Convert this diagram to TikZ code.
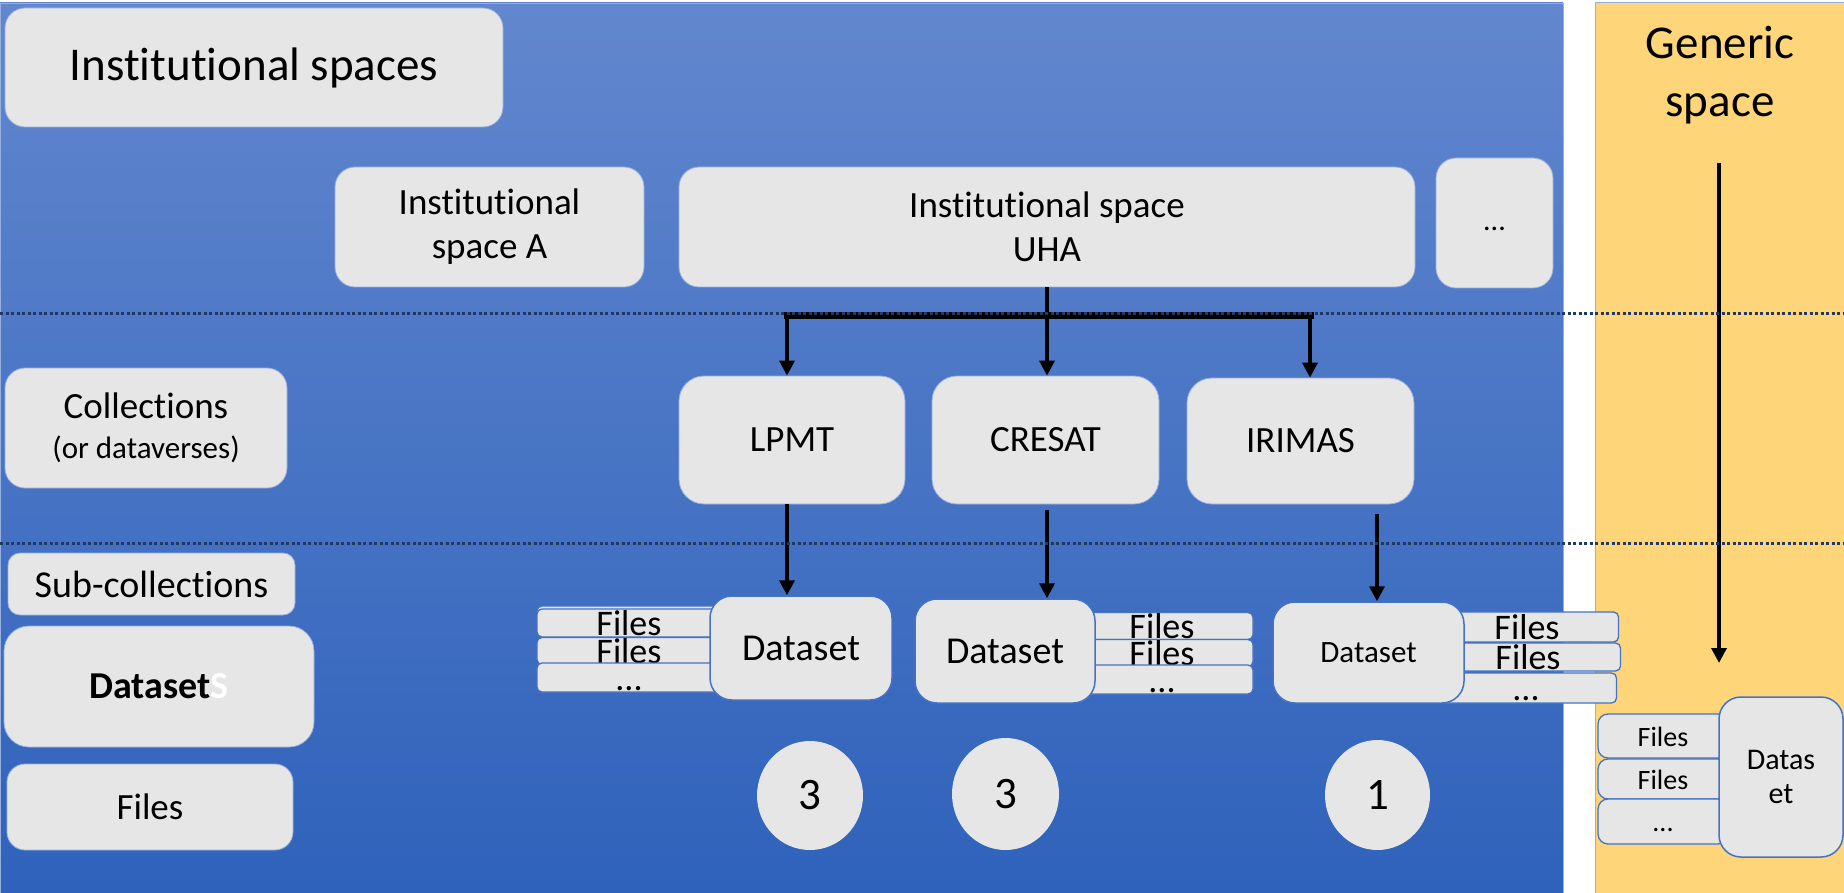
\documentclass[tikz,border=0pt]{standalone}
\usepackage{fontspec}
\setmainfont{Carlito}[Ligatures=NoCommon]
\usetikzlibrary{arrows.meta,shapes.geometric}
\definecolor{paneltop}{RGB}{98,135,206}
\definecolor{panelbot}{RGB}{47,98,187}
\definecolor{genericbg}{RGB}{255,213,121}
\definecolor{boxgrey}{RGB}{230,230,230}
\definecolor{boxrim}{RGB}{150,175,222}
\definecolor{dsrim}{RGB}{68,114,196}
\definecolor{sepline}{RGB}{31,56,100}
\tikzset{
  tile/.style={rectangle,rounded corners=20pt,fill=boxgrey,draw=boxrim,line width=0.8pt,inner sep=0pt,align=center,font=\fontsize{37}{44}\selectfont},
  dsbox/.style={tile,draw=dsrim,line width=1.5pt,rounded corners=22pt,font=\fontsize{38}{44}\selectfont},
  filerow/.style={rectangle,rounded corners=5pt,fill=boxgrey,draw=dsrim,line width=1.3pt,inner sep=0pt,font=\fontsize{36}{40}\selectfont,text height=25pt,text depth=0pt},
  tally/.style={ellipse,fill=boxgrey,inner sep=0pt,font=\fontsize{45}{50}\selectfont},
  flow/.style={line width=3.5pt,-{Triangle[width=15pt,length=15pt]}},
  levelline/.style={sepline,line width=3pt,dash pattern=on 3pt off 2.5pt}
}
\begin{document}
\begin{tikzpicture}[x=1pt,y=-1pt]
\useasboundingbox (0,0) rectangle (1844,893);
% the two spaces
\shadedraw[top color=paneltop,bottom color=panelbot,draw=boxrim,line width=0.8pt] (0,3) rectangle (1563,893);
\filldraw[fill=genericbg,draw=boxrim,line width=0.8pt] (1595,2) rectangle (1844,893);

% level names on the left
\node[tile,minimum width=498pt,minimum height=119pt,font=\fontsize{47}{56}\selectfont] (spaces) at (254,67.5) {Institutional spaces};
\node[tile,minimum width=282pt,minimum height=120pt,font=\fontsize{37}{40}\selectfont] (coll) at (146,428) {Collections\\{\fontsize{31}{36}\selectfont(or dataverses)}};
\node[tile,rounded corners=12pt,minimum width=287pt,minimum height=62pt,font=\fontsize{38}{44}\selectfont] (sub) at (151.5,584) {Sub-collections};
\node[tile,rounded corners=25pt,minimum width=310pt,minimum height=121pt,font=\fontsize{38}{44}\selectfont] (sets) at (159,686.5) {\textbf{Dataset}\textbf{\color{white}S}};
\node[tile,rounded corners=18pt,minimum width=286pt,minimum height=86pt] (files) at (150,807) {Files};

% institutional spaces
\node[tile,minimum width=309pt,minimum height=120pt] (spaceA) at (489.5,227) {Institutional\\space A};
\node[tile,minimum width=736pt,minimum height=120pt] (uha) at (1047,227) {Institutional space\\UHA};
\node[tile,minimum width=117pt,minimum height=130pt,font=\fontsize{30}{36}\selectfont,text height=15pt,text depth=0pt] (more) at (1494.5,223) {...};

% collections of UHA
\node[tile,rounded corners=25pt,minimum width=226pt,minimum height=128pt] (lpmt) at (792,440) {LPMT};
\node[tile,rounded corners=25pt,minimum width=227pt,minimum height=128pt] (cresat) at (1045.5,440) {CRESAT};
\node[tile,rounded corners=25pt,minimum width=227pt,minimum height=126pt] (irimas) at (1300.5,441) {IRIMAS};

% datasets and their files
\node[filerow,minimum width=184pt,minimum height=28pt] (lf0) at (629,620) {};
\node[filerow,minimum width=184pt,minimum height=28pt] (lf1) at (629,623) {Files};
\node[filerow,minimum width=184pt,minimum height=27pt] (lf2) at (629,651) {Files};
\node[filerow,minimum width=184pt,minimum height=29pt] (lf3) at (629,677.5) {...};
\node[dsbox,minimum width=182pt,minimum height=104pt] (dsL) at (801,648) {Dataset};

\node[filerow,minimum width=182pt,minimum height=27pt] (cf1) at (1162,626) {Files};
\node[filerow,minimum width=182pt,minimum height=27pt] (cf2) at (1162,653) {Files};
\node[filerow,minimum width=182pt,minimum height=29pt] (cf3) at (1162,679.5) {...};
\node[dsbox,minimum width=180pt,minimum height=104pt] (dsC) at (1005,651) {Dataset};

\node[filerow,minimum width=183pt,minimum height=30pt] (if1) at (1527,627) {Files};
\node[filerow,minimum width=185pt,minimum height=28pt] (if2) at (1528,657) {Files};
\node[filerow,minimum width=181pt,minimum height=30pt] (if3) at (1526,688) {...};
\node[dsbox,minimum width=191pt,minimum height=101pt,font=\fontsize{31}{36}\selectfont] (dsI) at (1368.5,652.5) {Dataset};

% generic space
\node[font=\fontsize{47}{58}\selectfont,align=center] (generic) at (1720,75) {Generic\\space};
\node[filerow,rounded corners=10pt,minimum width=130pt,minimum height=44pt,font=\fontsize{28}{32}\selectfont,text height=20pt] (gf1) at (1663,736) {Files};
\node[filerow,rounded corners=10pt,minimum width=130pt,minimum height=40pt,font=\fontsize{28}{32}\selectfont,text height=20pt] (gf2) at (1663,779) {Files};
\node[filerow,rounded corners=10pt,minimum width=130pt,minimum height=45pt,font=\fontsize{28}{32}\selectfont,text height=20pt] (gf3) at (1663,821.5) {...};
\node[dsbox,minimum width=124pt,minimum height=160pt,font=\fontsize{30}{34}\selectfont] (dsG) at (1781,777) {Datas\\et};

% dataset counts
\node[tally,minimum width=106pt,minimum height=109pt] (nL) at (810,795.5) {3};
\node[tally,minimum width=107pt,minimum height=112pt] (nC) at (1005.5,794) {3};
\node[tally,minimum width=105pt,minimum height=110pt] (nI) at (1377.5,795) {1};

% connectors
\coordinate (barL) at (787,315);
\coordinate (barR) at (1310,315);
\draw[line width=7pt,line cap=rect] (barL) -- (barR);
\draw[flow] (uha.south) -- (uha.south |- cresat.north);
\draw[flow] (barL) -- (barL |- lpmt.north);
\draw[flow] (barR) -- (barR |- irimas.north);
\draw[flow] (barL |- lpmt.south) -- (barL |- dsL.north);
\coordinate (cTop) at (1047,510);
\draw[flow] (cTop) -- (cTop |- dsC.north);
\coordinate (iTop) at (1377,514);
\draw[flow] (iTop) -- (iTop |- dsI.north);
\coordinate (gTop) at (1719,163);
\coordinate (gTip) at (1719,663);
\draw[flow] (gTop) -- (gTip);

% level separators
\draw[levelline] (0,313) -- (1844,313);
\draw[levelline] (0,543) -- (1844,543);
\end{tikzpicture}
\end{document}
